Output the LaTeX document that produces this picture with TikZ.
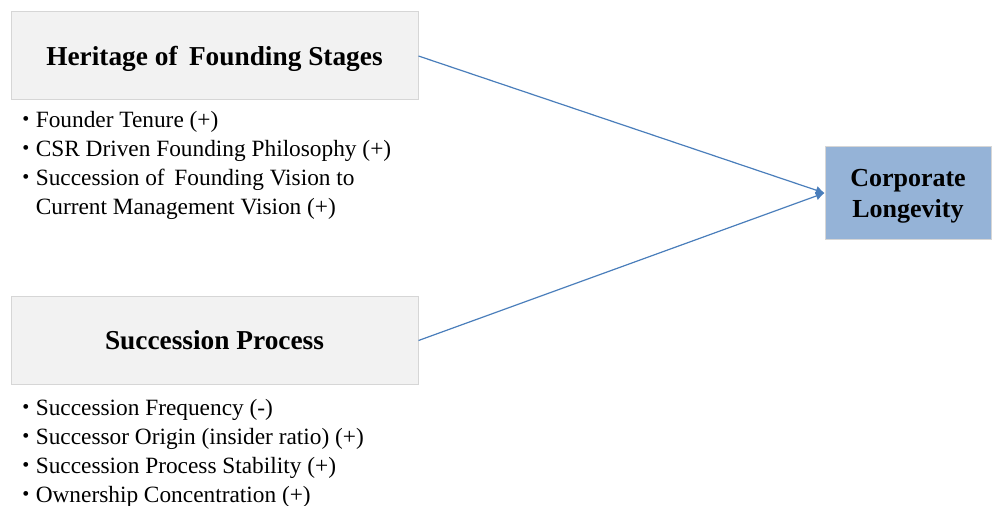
\documentclass[tikz,border=0pt]{standalone}
\usepackage{fontspec}
\setmainfont{Liberation Serif}
\usetikzlibrary{arrows.meta}
\definecolor{stagefill}{HTML}{F2F2F2}
\definecolor{stageline}{HTML}{D6D6D6}
\definecolor{longfill}{HTML}{95B3D7}
\definecolor{linkblue}{HTML}{4A7EBB}
\newcommand{\listdot}{\raisebox{1.6pt}{\fontsize{15}{15}\selectfont\textbullet}}

\begin{document}
\begin{tikzpicture}[x=0.75pt,y=-0.75pt,
    stage/.style={draw=stageline,fill=stagefill,line width=0.75pt,
        minimum width=305.25pt,minimum height=66pt,text depth=0pt,
        font=\bfseries\fontsize{20.5}{24}\selectfont},
    outcome/.style={draw=stageline,fill=longfill,line width=0.75pt,
        minimum width=124.5pt,minimum height=69.75pt,align=center,
        text depth=0pt,font=\bfseries\fontsize{19.5}{23.25}\selectfont},
    items/.style={anchor=base west,inner sep=0pt,
        font=\fontsize{17.5}{21.75}\selectfont},
    link/.style={linkblue,line width=0.9pt,-{Latex[length=6.5pt,width=6.5pt]}}
]
    \useasboundingbox (0,0) rectangle (992,506);
    \node[stage] (heritage) at (214.5,56) {Heritage of\, Founding Stages};
    \node[stage] (succession) at (214.5,340.5) {Succession Process};
    \node[outcome] (longevity) at (908,193) {Corporate\\Longevity};
    % factor lists
    \node[items] (heritagelist) at (22,128) {\begin{tabular}[t]{@{}l@{\hspace{4.9pt}}l@{}}
        \listdot & Founder Tenure (+)\\
        \listdot & CSR Driven Founding Philosophy (+)\\
        \listdot & Succession of\, Founding Vision to\\
        & Current Management Vision (+)
    \end{tabular}};
    \node[items] (successionlist) at (22,415.5) {\begin{tabular}[t]{@{}l@{\hspace{4.9pt}}l@{}}
        \listdot & Succession Frequency (-)\\
        \listdot & Successor Origin (insider ratio) (+)\\
        \listdot & Succession Process Stability (+)\\
        \listdot & Ownership Concentration (+)
    \end{tabular}};
    \draw[link] (heritage.east) -- (longevity.west);
    \draw[link] (succession.east) -- (longevity.west);
\end{tikzpicture}
\end{document}
